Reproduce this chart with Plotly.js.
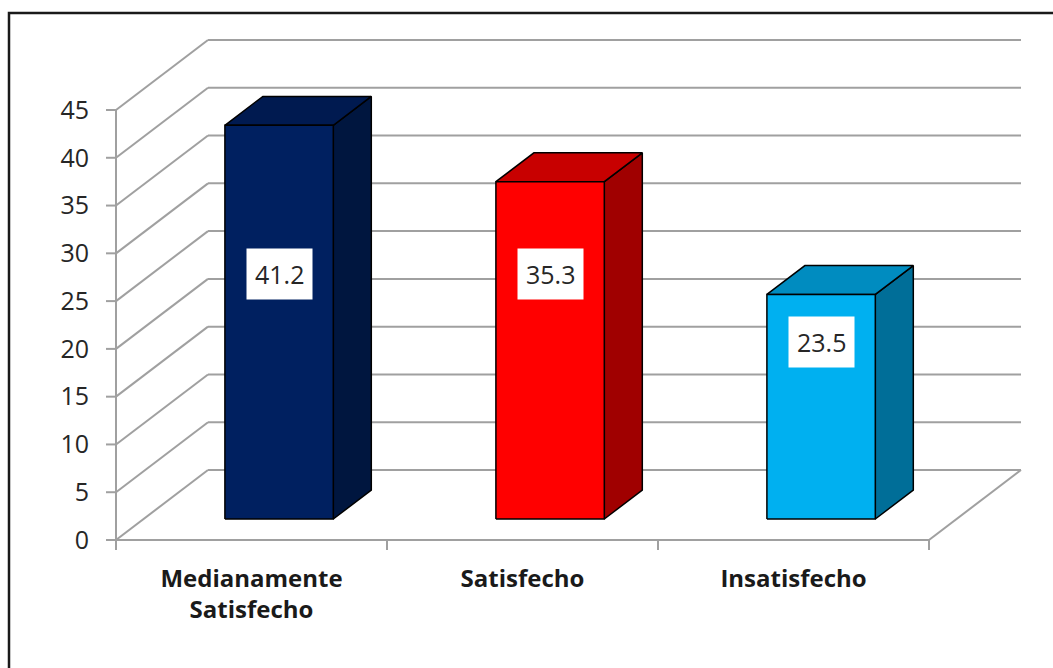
<!DOCTYPE html>
<html>
<head>
<meta charset="utf-8">
<script src="https://cdn.plot.ly/plotly-3.0.1.min.js"></script>
<style>html,body{margin:0;padding:0;background:#fff;}#chart{width:1053px;height:668px;}</style>
</head>
<body>
<div id="chart"></div>
<script>
// ---- data ----
const categories = ['Medianamente<br>Satisfecho', 'Satisfecho', 'Insatisfecho'];
const values = [41.2, 35.3, 23.5];
const yTicks = [0, 5, 10, 15, 20, 25, 30, 35, 40, 45];

// ---- styles ----
const frontColors = ['#002060', '#FF0000', '#00B0F0'];
const topColors = ['#001A50', '#C80000', '#008CC0'];
const sideColors = ['#00163F', '#A00000', '#006E98'];
const gridColor = '#A0A0A0';
const FONT = 'Open Sans, Noto Sans, sans-serif';

// ---- geometry (pixel anchors -> data units) ----
const W = 1053, H = 668;
const frontLeftPx = 116, frontRightPx = 929, zeroPx = 540, topTickPx = 110;
const nCat = categories.length;
const PX = (frontRightPx - frontLeftPx) / nCat;        // px per category
const PY = (zeroPx - topTickPx) / yTicks[yTicks.length - 1]; // px per value unit
const DX = 92 / PX, DY = 70 / PY;                        // depth offset in data units
const plotL = 100, plotR = 1030, plotT = 30, plotB = 556;
const xRange = [-0.5 - (frontLeftPx - plotL) / PX, -0.5 + (plotR - frontLeftPx) / PX];
const yRange = [-(plotB - zeroPx) / PY, (zeroPx - plotT) / PY];
const xLeft = -0.5, xRight = nCat - 0.5;
const barW = 0.4, f0 = 0.3, f1 = 0.713;

const traces = [];
function line(xs, ys, color, width) {
  traces.push({type: 'scatter', mode: 'lines', x: xs, y: ys, hoverinfo: 'skip', showlegend: false,
    line: {color: color, width: width}});
}
function poly(xs, ys, fill) {
  traces.push({type: 'scatter', mode: 'lines', x: xs.concat([xs[0]]), y: ys.concat([ys[0]]), fill: 'toself',
    fillcolor: fill, hoverinfo: 'skip', showlegend: false, line: {color: '#000000', width: 1.5}});
}

// walls gridlines
yTicks.forEach(t => {
  line([xLeft + DX, xRight + DX], [t + DY, t + DY], gridColor, 2);      // back wall
  line([xLeft, xLeft + DX], [t, t + DY], gridColor, 2);                 // side wall
  line([xLeft - 10 / PX, xLeft], [t, t], gridColor, 2);                 // tick mark
});
// floor right edge and front axis
line([xRight, xRight + DX], [0, DY], gridColor, 2);
line([xLeft, xRight], [0, 0], gridColor, 2);
line([xLeft, xLeft], [0, yTicks[yTicks.length - 1]], gridColor, 2);
for (let k = 0; k <= nCat; k++) {
  line([xLeft + k, xLeft + k], [0, -10 / PY], gridColor, 2);
}

// bars
const annotations = [];
values.forEach((v, i) => {
  const xl = i - barW / 2, xr = i + barW / 2;
  const ax = f0 * DX, ay = f0 * DY, bx = f1 * DX, by = f1 * DY;
  poly([xr + ax, xr + bx, xr + bx, xr + ax], [ay, by, v + by, v + ay], sideColors[i]);
  poly([xl + ax, xr + ax, xr + bx, xl + bx], [v + ay, v + ay, v + by, v + by], topColors[i]);
  poly([xl + ax, xr + ax, xr + ax, xl + ax], [ay, ay, v + ay, v + ay], frontColors[i]);
  annotations.push({
    x: i + ax, y: ay + Math.min(0.79 * v, 25.6), xref: 'x', yref: 'y', text: v.toFixed(1),
    showarrow: false, bgcolor: '#FFFFFF', borderpad: 8,
    font: {family: FONT, size: 25, color: '#262626'}
  });
});

const layout = {
  width: W, height: H,
  margin: {l: plotL, r: W - plotR, t: plotT, b: H - plotB},
  paper_bgcolor: '#FFFFFF', plot_bgcolor: 'rgba(0,0,0,0)',
  showlegend: false,
  xaxis: {range: xRange, showgrid: false, zeroline: false, showline: false, ticks: '',
    tickvals: categories.map((c, i) => i), ticktext: categories,
    tickfont: {family: FONT, size: 24, color: '#1A1A1A', weight: 'bold'}, ticklabelstandoff: 6, fixedrange: true},
  yaxis: {range: yRange, showgrid: false, zeroline: false, showline: false, ticks: '',
    tickvals: yTicks, ticktext: yTicks.map(String),
    tickfont: {family: FONT, size: 25, color: '#262626'}, ticklabelstandoff: 10, fixedrange: true},
  annotations: annotations,
  shapes: [{type: 'rect', xref: 'paper', yref: 'paper',
    x0: (9 - plotL) / (plotR - plotL), x1: (1060 - plotL) / (plotR - plotL),
    y0: (plotB - 680) / (plotB - plotT), y1: (plotB - 13) / (plotB - plotT),
    line: {color: '#1A1A1A', width: 2.5}, fillcolor: 'rgba(0,0,0,0)', layer: 'below'}]
};

Plotly.newPlot('chart', traces, layout, {displayModeBar: false, staticPlot: true});
</script>
</body>
</html>
